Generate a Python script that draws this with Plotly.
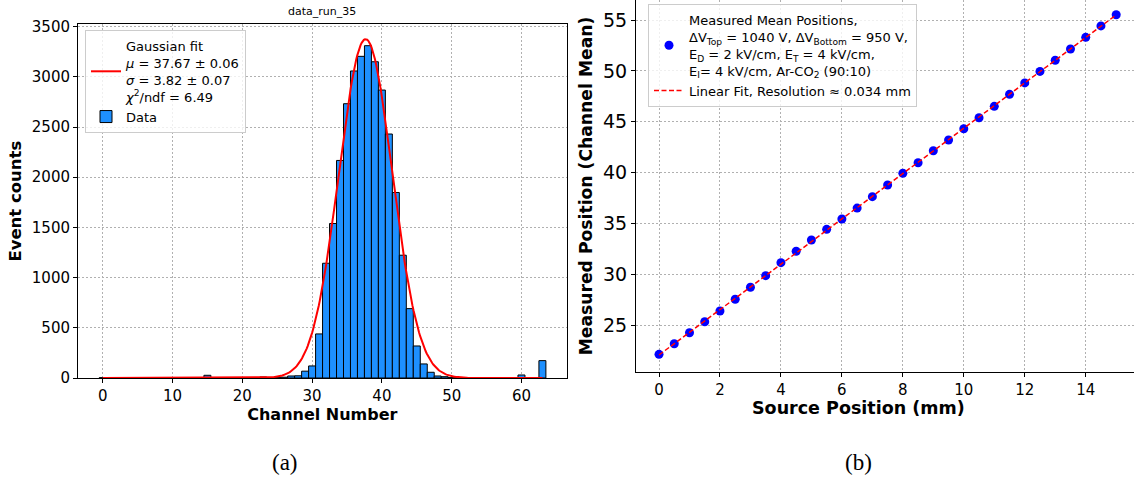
import numpy as np
import plotly.graph_objects as go

W, H = 1134, 479

# ---- (a) channel histogram of run 35 ----
channels = list(range(64))
counts = [
    3, 1, 1, 0, 1, 1, 0, 1, 1, 0,            # 0-9
    1, 1, 0, 1, 1, 27, 3, 1, 1, 1,           # 10-19
    1, 1, 3, 10, 3, 3, 8, 20, 22, 68,        # 20-29
    120, 439, 1143, 1539, 2167, 2732, 3058, 3204, 3310, 3150,  # 30-39
    2868, 2430, 1848, 1223, 691, 319, 140, 57, 20, 13,         # 40-49
    4, 2, 1, 1, 1, 3, 3, 1, 1, 4,            # 50-59
    30, 1, 5, 173,                           # 60-63
]

# Gaussian fit result
fit_mu, fit_mu_err = 37.67, 0.06
fit_sigma, fit_sigma_err = 3.82, 0.07
fit_chi2_ndf = 6.49
fit_amplitude = 3375

# ---- (b) position scan ----
source_mm = [0.0, 0.5, 1.0, 1.5, 2.0, 2.5, 3.0, 3.5, 4.0, 4.5, 5.0, 5.5, 6.0, 6.5, 7.0, 7.5,
             8.0, 8.5, 9.0, 9.5, 10.0, 10.5, 11.0, 11.5, 12.0, 12.5, 13.0, 13.5, 14.0, 14.5, 15.0]
mean_channel = [22.13, 23.17, 24.25, 25.33, 26.39, 27.54, 28.72, 29.86,
                31.14, 32.26, 33.37, 34.42, 35.43, 36.51, 37.63, 38.78,
                39.93, 40.97, 42.15, 43.20, 44.31, 45.39, 46.51, 47.69,
                48.82, 49.95, 51.05, 52.15, 53.30, 54.42, 55.52]
resolution_mm = 0.034

# fitted curves
x_fit = np.linspace(0, 63, 400)
y_fit = fit_amplitude * np.exp(-0.5 * ((x_fit - fit_mu) / fit_sigma) ** 2)
slope, intercept = np.polyfit(source_mm, mean_channel, 1)
x_lin = np.array([source_mm[0], source_mm[-1]])
y_lin = slope * x_lin + intercept


def px(x):
    return x / W


def py(y):
    return 1 - y / H


FONT = "DejaVu Sans"
grid = dict(showgrid=True, gridcolor="#b0b0b0", griddash="2px,2px", gridwidth=1)
frame = dict(showline=True, linecolor="black", linewidth=1, mirror=True, automargin=False,
             ticks="outside", ticklen=4, tickwidth=1, tickcolor="black", zeroline=False)

fig = go.Figure()

fig.add_trace(go.Bar(
    x=channels, y=counts, width=1.0, name="Data",
    marker=dict(color="#1e90ff", line=dict(color="black", width=1)),
    xaxis="x", yaxis="y", legend="legend", legendrank=2,
))
fig.add_trace(go.Scatter(
    x=x_fit, y=y_fit, mode="lines",
    line=dict(color="red", width=2),
    name=(f"Gaussian fit<br><i>μ</i> = {fit_mu:.2f} ± {fit_mu_err:.2f}"
          f"<br><i>σ</i> = {fit_sigma:.2f} ± {fit_sigma_err:.2f}"
          f"<br><i>χ</i><sup>2</sup>/ndf = {fit_chi2_ndf:.2f}"),
    xaxis="x", yaxis="y", legend="legend", legendrank=1,
))
fig.add_trace(go.Scatter(
    x=source_mm, y=mean_channel, mode="markers",
    marker=dict(color="blue", size=9),
    name=("Measured Mean Positions,<br>ΔV<sub>Top</sub> = 1040 V, ΔV<sub>Bottom</sub> = 950 V,"
          "<br>E<sub>D</sub> = 2 kV/cm, E<sub>T</sub> = 4 kV/cm,"
          "<br>E<sub>I</sub>= 4 kV/cm, Ar-CO<sub>2</sub> (90:10)"),
    xaxis="x2", yaxis="y2", legend="legend2",
))
fig.add_trace(go.Scatter(
    x=x_lin, y=y_lin, mode="lines",
    line=dict(color="red", width=1.5, dash="5px,2.5px"),
    name=f"Linear Fit, Resolution ≈ {resolution_mm:.3f} mm",
    xaxis="x2", yaxis="y2", legend="legend2",
))

legend_style = dict(xanchor="left", yanchor="top", bgcolor="rgba(255,255,255,0.8)",
                    bordercolor="#cccccc", borderwidth=1, itemwidth=30,
                    font=dict(family=FONT, size=13, color="black"))


def note(text, x, y, size, family=FONT, bold=False, angle=0):
    return dict(text=f"<b>{text}</b>" if bold else text, x=px(x), y=py(y),
                xref="paper", yref="paper", xanchor="center", yanchor="middle",
                showarrow=False, textangle=angle,
                font=dict(family=family, size=size, color="black"))


fig.update_layout(
    template="none",
    width=W, height=H,
    margin=dict(l=0, r=0, t=0, b=0, pad=0),
    paper_bgcolor="white", plot_bgcolor="white",
    showlegend=True,
    font=dict(family=FONT, color="black"),
    xaxis=dict(domain=[px(78), px(566.7)], range=[-3.54, 66.48], anchor="y",
               dtick=10, tick0=0, tickfont=dict(size=15),
               title=dict(text="<b>Channel Number</b>", font=dict(size=16), standoff=3),
               **grid, **frame),
    yaxis=dict(domain=[py(378), py(24.3)], range=[0, 3523], anchor="x",
               dtick=500, tick0=0, tickfont=dict(size=15),
               title=dict(text="<b>Event counts</b>", font=dict(size=16.5), standoff=6),
               **grid, **frame),
    xaxis2=dict(domain=[px(636), 1.0], range=[-0.755, 15.584], anchor="y2",
                dtick=2, tick0=0, tickfont=dict(size=15),
                **grid, **frame),
    yaxis2=dict(domain=[py(372), 1.0], range=[20.39, 56.97], anchor="x2",
                dtick=5, tick0=25, tickfont=dict(size=19),
                title=dict(text="<b>Measured Position (Channel Mean)</b>", font=dict(size=17.2), standoff=5),
                **grid, **frame),
    legend=dict(x=px(85), y=py(30), **legend_style),
    legend2=dict(x=px(648), y=py(4), **legend_style),
    annotations=[
        note("data_run_35", 322, 11, 11),
        note("Source Position (mm)", 858, 408, 17.5, bold=True),
        note("(a)", 285, 462, 23, family="Liberation Serif"),
        note("(b)", 858, 462, 23, family="Liberation Serif"),
    ],
)

fig.write_html("out.html")
